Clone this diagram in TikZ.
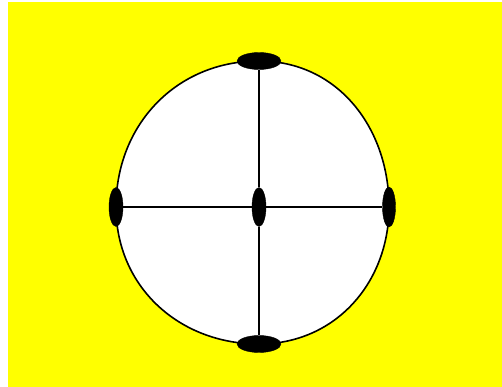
\documentclass[tikz,border=0pt]{standalone}
\usepackage{xcolor}
\usepackage{tikz}
\usetikzlibrary{shapes.geometric}
\definecolor{bgyellow}{RGB}{255,255,0}
\tikzset{
  blob/.style={ellipse, draw=black, fill=black, inner sep=0pt,
               minimum width=#1},
  flat/.style={blob=44pt, minimum height=17pt},
  tall/.style={blob=14pt, minimum height=39pt},
  rim/.style={draw=black, fill=white, line width=1.6pt, looseness=1.03},
  spoke/.style={draw=black, line width=1.6pt},
}
\begin{document}
\begin{tikzpicture}[x=1pt, y=-1pt]
  \useasboundingbox (0,0) rectangle (502,387);
  % background
  \fill[white] (0,0) rectangle (502,387);
  \fill[bgyellow] (8,2) rectangle (502,387);
  % anchor points
  \coordinate (pt) at (259,61);
  \coordinate (pl) at (116,207);
  \coordinate (pb) at (259,344);
  \coordinate (pr) at (389,207);
  \coordinate (pm) at (259,207);
  % outline
  \path[rim] (pt) to[out=180, in=90] (pl) to[out=-90, in=180] (pb)
             to[out=0, in=-90] (pr) to[out=90, in=0] (pt) -- cycle;
  % nodes
  \node[flat] (top) at (pt) {};
  \node[flat] (bot) at (pb) {};
  \node[tall] (lft) at (pl) {};
  \node[tall, minimum width=13pt, minimum height=40pt] (rgt) at (pr) {};
  \node[tall] (mid) at (pm) {};
  % spokes
  \draw[spoke] (top) -- (mid);
  \draw[spoke] (mid) -- (bot);
  \draw[spoke] (lft) -- (mid);
  \draw[spoke] (mid) -- (rgt);
\end{tikzpicture}
\end{document}
